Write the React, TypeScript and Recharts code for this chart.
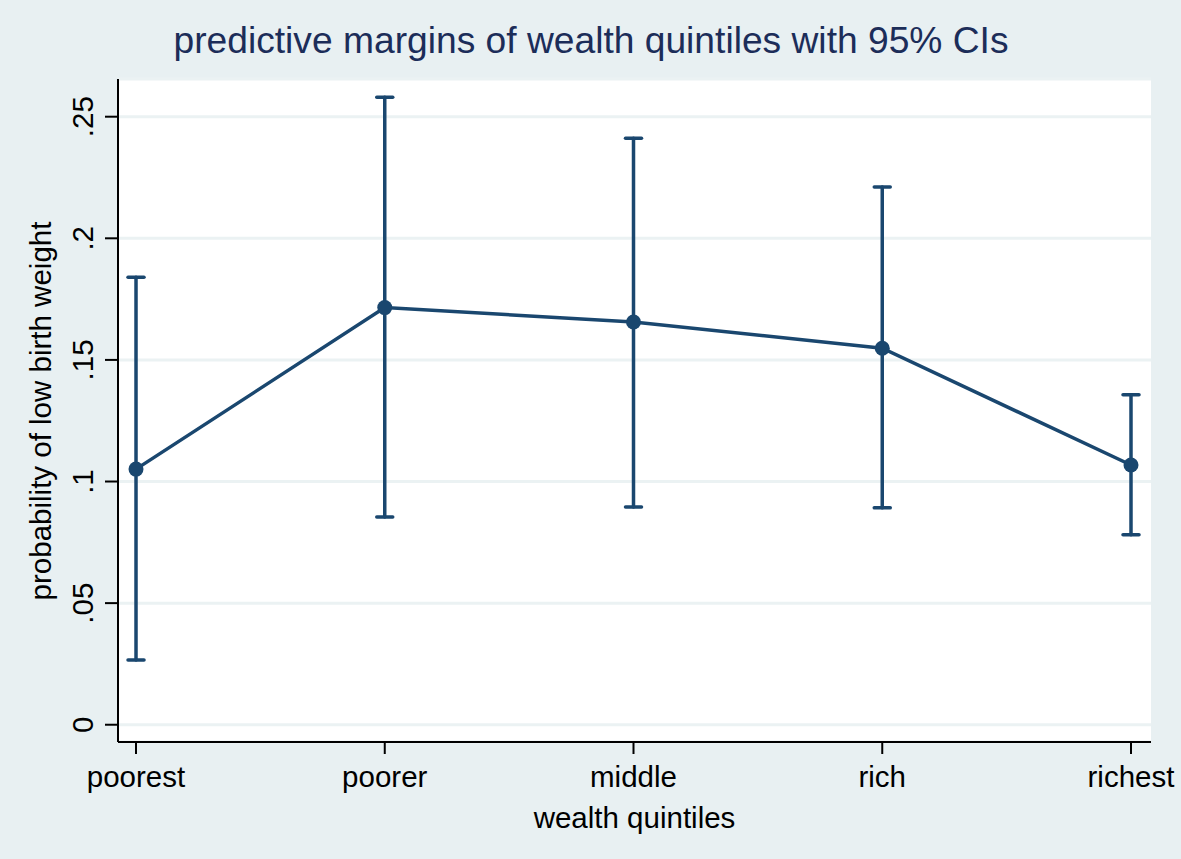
import { ComposedChart, Line, XAxis, YAxis, CartesianGrid, ErrorBar } from "recharts";

// Stata-style margins plot: point estimate + 95% CI per wealth quintile
const categories = ["poorest", "poorer", "middle", "rich", "richest"];
const margins = [0.1051, 0.1715, 0.1656, 0.1548, 0.1068];
const ciLow = [0.0266, 0.0854, 0.0895, 0.0892, 0.0781];
const ciHigh = [0.184, 0.258, 0.2411, 0.2211, 0.1357];
const yTicks = [0, 0.05, 0.1, 0.15, 0.2, 0.25];

const navy = "#1a476f";
const bg = "#e8f0f2";
const font = "'Liberation Sans', Arial, Helvetica, sans-serif";

const data = categories.map((name, i) => ({
  x: i,
  name,
  margin: margins[i],
  ci: [margins[i] - ciLow[i], ciHigh[i] - margins[i]],
}));

// .05 instead of 0.05, like Stata
const fmtY = (v: number) => (v === 0 ? "0" : String(v).replace(/^0/, ""));

const XTick = ({ x, y, payload }: any) => (
  <text x={x} y={y} dy={31} textAnchor="middle" fill="#000" fontSize={29.5} fontFamily={font}>
    {categories[payload.value]}
  </text>
);

const YTick = ({ x, y, payload }: any) => (
  <text
    x={x - 10}
    y={y}
    textAnchor="middle"
    transform={`rotate(-90, ${x - 10}, ${y})`}
    fill="#000"
    fontSize={29.5}
    fontFamily={font}
  >
    {fmtY(payload.value)}
  </text>
);

export default function App() {
  return (
    <div style={{ position: "absolute", left: 0, top: 0, width: 1181, height: 859, background: bg }}>
      <svg width={1181} height={859} style={{ position: "absolute", left: 0, top: 0, pointerEvents: "none" }}>
        <text x={591} y={53} textAnchor="middle" fill="#1c2d59" fontSize={37.2} fontFamily={font}>
          predictive margins of wealth quintiles with 95% CIs
        </text>
        <text
          x={51}
          y={411}
          textAnchor="middle"
          transform="rotate(-90, 51, 411)"
          fill="#000"
          fontSize={29.5}
          fontFamily={font}
        >
          probability of low birth weight
        </text>
        <text x={634.5} y={828} textAnchor="middle" fill="#000" fontSize={29.5} fontFamily={font}>
          wealth quintiles
        </text>
      </svg>
      <ComposedChart
        width={1181}
        height={859}
        data={data}
        margin={{ top: 79, right: 30, bottom: 37, left: 38 }}
        style={{ position: "absolute", left: 0, top: 0 }}
      >
        <CartesianGrid vertical={false} fill="#ffffff" stroke="#ebf2f3" strokeWidth={3} />
        <XAxis
          dataKey="x"
          type="number"
          domain={[-0.0724, 4.0804]}
          ticks={[0, 1, 2, 3, 4]}
          height={80}
          tickSize={12}
          axisLine={{ stroke: "#000", strokeWidth: 2 }}
          tickLine={{ stroke: "#000", strokeWidth: 2 }}
          tick={<XTick />}
          allowDataOverflow
        />
        <YAxis
          type="number"
          domain={[-0.0071, 0.2655]}
          ticks={yTicks}
          width={80}
          tickSize={13}
          axisLine={{ stroke: "#000", strokeWidth: 2 }}
          tickLine={{ stroke: "#000", strokeWidth: 2 }}
          tick={<YTick />}
          allowDataOverflow
        />
        <Line
          dataKey="margin"
          type="linear"
          stroke={navy}
          strokeWidth={3.5}
          dot={{ r: 7.5, fill: navy, stroke: navy, strokeWidth: 0 }}
          activeDot={false}
          isAnimationActive={false}
        >
          <ErrorBar
            dataKey="ci"
            width={8}
            stroke={navy}
            strokeWidth={3.5}
            strokeLinecap="round"
            direction="y"
            isAnimationActive={false}
          />
        </Line>
      </ComposedChart>
    </div>
  );
}
